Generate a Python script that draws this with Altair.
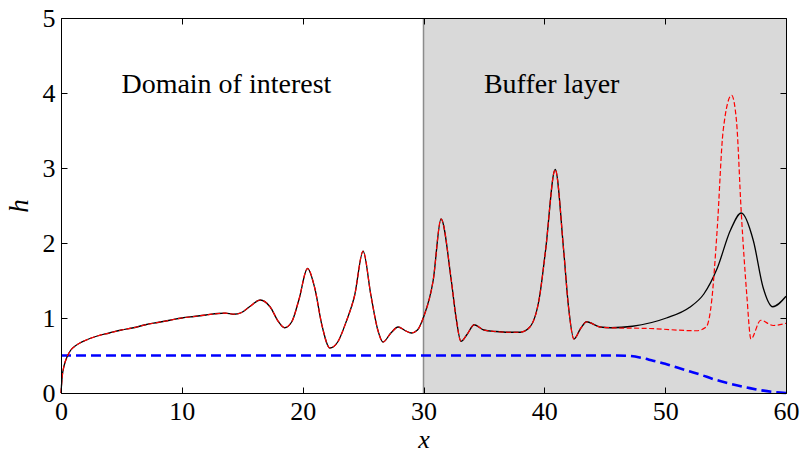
import altair as alt
import pandas as pd

# ---------------- data ----------------
# common part of both solutions (domain of interest + start of buffer)
common_x = [0.0, 0.1, 0.25, 0.5, 0.8, 1.2, 1.6, 2.0, 3.0, 4.0, 5.0, 6.0, 7.0, 8.0, 9.0,
            10.0, 11.0, 12.0, 13.0, 13.6, 14.3, 14.9, 15.6, 16.5, 17.3, 18.0, 18.5,
            19.1, 19.7, 20.4, 21.0, 21.6, 22.25, 22.9, 23.6, 24.3, 25.0, 25.65, 26.2,
            26.65, 27.3, 27.9, 28.5, 29.0, 29.5, 30.0, 30.8, 31.45, 32.3, 32.7, 33.1,
            33.6, 34.2, 35.0, 36.0, 37.0, 38.0, 38.8, 39.6, 40.1, 40.9, 41.6, 42.0,
            42.45, 43.0, 43.5, 44.6, 45.5]
common_y = [0.0, 0.22, 0.36, 0.48, 0.57, 0.63, 0.67, 0.70, 0.76, 0.80, 0.84, 0.87, 0.91,
            0.94, 0.97, 1.00, 1.02, 1.04, 1.06, 1.065, 1.05, 1.07, 1.15, 1.24, 1.15,
            0.95, 0.87, 0.95, 1.25, 1.66, 1.40, 0.90, 0.60, 0.68, 0.95, 1.30, 1.89,
            1.30, 0.85, 0.68, 0.80, 0.88, 0.83, 0.80, 0.84, 1.01, 1.50, 2.32, 1.50,
            1.00, 0.69, 0.78, 0.91, 0.84, 0.82, 0.81, 0.81, 0.88, 1.28, 1.90, 2.98,
            1.90, 1.15, 0.72, 0.86, 0.95, 0.88, 0.87]

# buffer layer, black solid solution
black_buf_x = [47.3, 50.1, 52.0, 53.2, 54.3, 55.4, 56.3, 57.3, 58.1, 58.9, 60.0]
black_buf_y = [0.89, 1.00, 1.14, 1.32, 1.66, 2.17, 2.40, 2.03, 1.41, 1.15, 1.29]

# buffer layer, red dashed solution
red_buf_x = [48.7, 52.6, 53.4, 53.85, 54.3, 54.8, 55.5, 55.9, 56.3, 56.75, 57.1,
             57.9, 58.95, 60.0]
red_buf_y = [0.86, 0.83, 0.88, 1.23, 2.17, 3.50, 3.97, 3.63, 2.40, 1.32, 0.72,
             0.97, 0.90, 0.93]

# blue dashed profile
blue_x = [0, 46, 47, 48, 49, 50, 51, 52, 53, 54, 55, 56, 57, 58, 59, 60]
blue_y = [0.5, 0.5, 0.495, 0.47, 0.43, 0.39, 0.34, 0.29, 0.24, 0.185, 0.14, 0.10,
          0.065, 0.035, 0.012, 0.0]

buffer_start, buffer_end = 30, 60
y_lo, y_hi = 0, 5

label_texts = ["Domain of interest", "Buffer layer"]
label_x = [5, 35]
label_y = [4.0, 4.0]

xticks = [0, 10, 20, 30, 40, 50, 60]
yticks = [0, 1, 2, 3, 4, 5]

# ---------------- frames ----------------
black_df = pd.DataFrame({"x": common_x + black_buf_x, "h": common_y + black_buf_y})
red_df = pd.DataFrame({"x": common_x + red_buf_x, "h": common_y + red_buf_y})
blue_df = pd.DataFrame({"x": blue_x, "h": blue_y})
region_df = pd.DataFrame({"x0": [buffer_start], "x1": [buffer_end], "y0": [y_lo], "y1": [y_hi]})
text_df = pd.DataFrame({"x": label_x, "h": label_y, "t": label_texts})

FONT = "Liberation Serif"
W, H = 725, 375
xscale = alt.Scale(domain=[0, 60], nice=False, zero=False)
yscale = alt.Scale(domain=[0, 5], nice=False, zero=False)

common_axis = dict(grid=False, zindex=1)

ax_bottom = alt.Axis(orient="bottom", values=xticks, ticks=False, domain=True,
                     domainColor="black", domainWidth=1, labels=True, labelFont=FONT,
                     labelFontSize=26, labelColor="black", labelPadding=5,
                     labelFlush=False, labelOverlap=False, format="d",
                     title="x", titleFont=FONT, titleFontSize=26, titleFontStyle="italic",
                     titleFontWeight="normal", titleColor="black", titleBaseline="alphabetic",
                     titleY=54, **common_axis)
ax_left = alt.Axis(orient="left", values=yticks, ticks=False, domain=True,
                   domainColor="black", domainWidth=1, labels=True, labelFont=FONT,
                   labelFontSize=26, labelColor="black", labelPadding=6,
                   labelFlush=False, labelOverlap=False, format="d",
                   title="h", titleFont=FONT, titleFontSize=27, titleFontStyle="italic",
                   titleFontWeight="normal", titleColor="black", titleBaseline="alphabetic",
                   titleAngle=270, titleX=-34, titleY=H / 2, **common_axis)
ax_top_dom = alt.Axis(orient="top", ticks=False, labels=False, domain=True,
                      domainColor="black", domainWidth=1, title=None, **common_axis)
ax_right_dom = alt.Axis(orient="right", ticks=False, labels=False, domain=True,
                        domainColor="black", domainWidth=1, title=None, **common_axis)
ax_bottom_ticks = alt.Axis(orient="bottom", offset=-6, values=xticks, ticks=True, tickSize=6,
                           tickColor="black", tickWidth=1, labels=False, domain=False,
                           title=None, **common_axis)
ax_left_ticks = alt.Axis(orient="left", offset=-6, values=yticks, ticks=True, tickSize=6,
                         tickColor="black", tickWidth=1, labels=False, domain=False,
                         title=None, **common_axis)
ax_top_ticks = alt.Axis(orient="top", offset=-6, values=xticks, ticks=True, tickSize=6,
                        tickColor="black", tickWidth=1, labels=False, domain=False,
                        title=None, **common_axis)
ax_right_ticks = alt.Axis(orient="right", offset=-6, values=yticks, ticks=True, tickSize=6,
                          tickColor="black", tickWidth=1, labels=False, domain=False,
                          title=None, **common_axis)

region = alt.Chart(region_df).mark_rect(color="#d9d9d9").encode(
    x=alt.X("x0:Q", scale=xscale, axis=ax_bottom),
    x2="x1:Q",
    y=alt.Y("y0:Q", scale=yscale, axis=ax_left),
    y2="y1:Q",
)

edge = alt.Chart(region_df).mark_rule(color="#8c8c8c", strokeWidth=1.5).encode(
    x=alt.X("x0:Q", scale=xscale, axis=ax_top_dom),
    y=alt.Y("y0:Q", scale=yscale, axis=ax_right_dom),
    y2="y1:Q",
)

blue = alt.Chart(blue_df).mark_line(color="#0000ff", strokeWidth=2.6, strokeDash=[10, 5],
                                    interpolate="monotone").encode(
    x=alt.X("x:Q", scale=xscale, axis=ax_bottom_ticks),
    y=alt.Y("h:Q", scale=yscale, axis=ax_left_ticks),
    order="x:Q",
)

black = alt.Chart(black_df).mark_line(color="black", strokeWidth=1.3,
                                      interpolate="monotone").encode(
    x=alt.X("x:Q", scale=xscale, axis=ax_top_ticks),
    y=alt.Y("h:Q", scale=yscale, axis=ax_right_ticks),
    order="x:Q",
)

red = alt.Chart(red_df).mark_line(color="#ff0000", strokeWidth=1.2, strokeDash=[5, 2.5],
                                  interpolate="monotone").encode(
    x=alt.X("x:Q", scale=xscale, axis=None),
    y=alt.Y("h:Q", scale=yscale, axis=None),
    order="x:Q",
)

texts = alt.Chart(text_df).mark_text(align="left", baseline="alphabetic", font=FONT,
                                     fontSize=28, color="black").encode(
    x=alt.X("x:Q", scale=xscale, axis=None),
    y=alt.Y("h:Q", scale=yscale, axis=None),
    text="t:N",
)

chart = alt.layer(region, edge, blue, black, red, texts).resolve_axis(
    x="independent", y="independent"
).properties(
    width=W, height=H,
    autosize=alt.AutoSizeParams(type="none"),
    padding={"left": 61, "top": 18, "right": 17, "bottom": 60},
    background="white",
).configure(font=FONT).configure_axis(
    labelFont=FONT, titleFont=FONT
).configure_text(font=FONT).configure_view(stroke=None)

chart.save("out.html", embed_options={"renderer": "svg", "actions": False})
